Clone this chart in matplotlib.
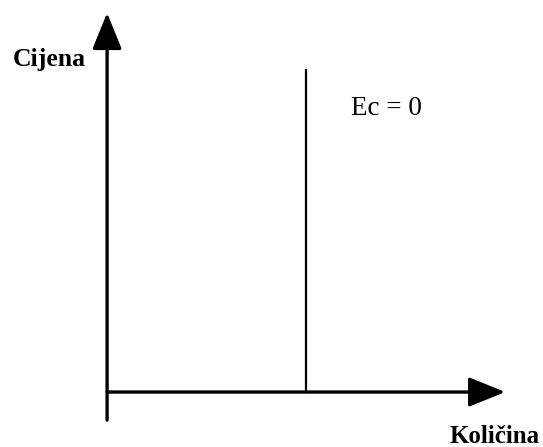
import matplotlib
matplotlib.use("Agg")
import matplotlib.pyplot as plt

# axis extent (quantity / price units) and the demand line
axis_max = [10, 10]          # x tip, y tip
y_axis_below = -0.74         # y axis pokes a bit below the origin
demand_q = 5.0               # perfectly inelastic demand at this quantity
demand_top = 8.5
labels = {"y": "Cijena", "x": "Količina", "curve": "Ec = 0"}

fig = plt.figure(figsize=(5.43, 4.47), dpi=100)
ax = fig.add_axes([0, 0, 1, 1])
ax.set_xlim(-2.69, 10.95)
ax.set_ylim(-1.45, 10.34)
ax.axis("off")

arrow_style = "-|>,head_length=1.6,head_width=0.65"

# x axis
ax.annotate("", xy=(axis_max[0], 0), xytext=(0, 0),
            arrowprops=dict(arrowstyle=arrow_style, mutation_scale=14, lw=2.4,
                            color="black", shrinkA=0, shrinkB=0))
# y axis
ax.annotate("", xy=(0, axis_max[1]), xytext=(0, y_axis_below),
            arrowprops=dict(arrowstyle=arrow_style, mutation_scale=14, lw=2.4,
                            color="black", shrinkA=0, shrinkB=0))

# vertical demand line
ax.plot([demand_q, demand_q], [0, demand_top], color="black", lw=1.6)

serif = ["Liberation Serif", "DejaVu Serif"]
ax.text(-2.36, 8.76, labels["y"], fontsize=18.5, fontweight="bold",
        family=serif, ha="left", va="center")
ax.text(10.88, -1.17, labels["x"], fontsize=18, fontweight="bold",
        family=serif, ha="right", va="center")
ax.text(6.13, 7.49, labels["curve"], fontsize=19.5, family=serif,
        ha="left", va="center")

fig.savefig("out.png", dpi=100)
